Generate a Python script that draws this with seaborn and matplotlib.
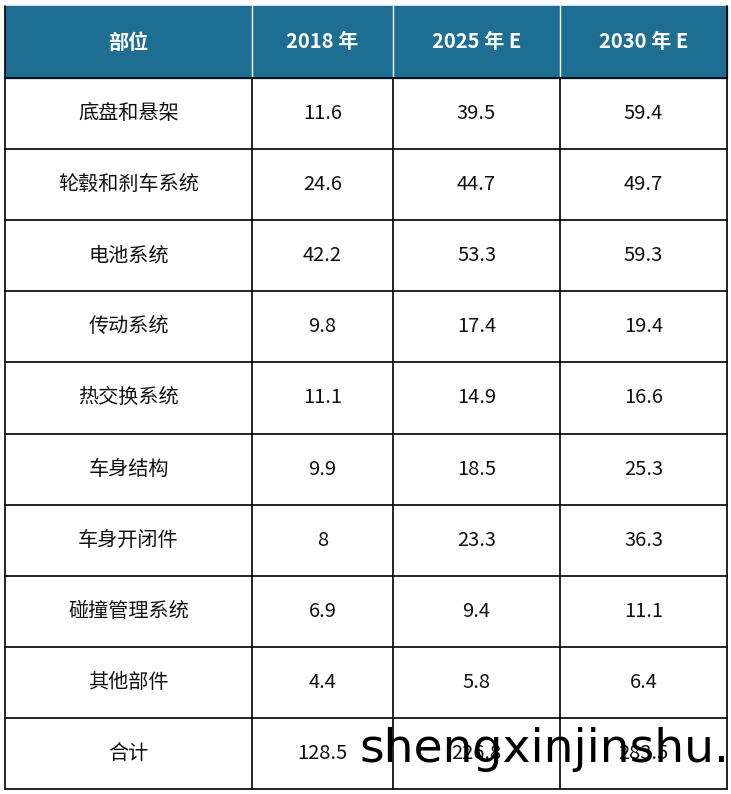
import matplotlib
matplotlib.use("Agg")
import matplotlib.pyplot as plt
import seaborn as sns
from matplotlib.patches import Rectangle

sns.set_theme(style="white")
plt.rcParams['font.family'] = ['Noto Sans CJK SC', 'DejaVu Sans']

headers = ["部位", "2018 年", "2025 年 E", "2030 年 E"]
parts = ["底盘和悬架", "轮毂和刹车系统", "电池系统", "传动系统", "热交换系统",
         "车身结构", "车身开闭件", "碰撞管理系统", "其他部件", "合计"]
v2018 = ["11.6", "24.6", "42.2", "9.8", "11.1", "9.9", "8", "6.9", "4.4", "128.5"]
v2025 = ["39.5", "44.7", "53.3", "17.4", "14.9", "18.5", "23.3", "9.4", "5.8", "226.8"]
v2030 = ["59.4", "49.7", "59.3", "19.4", "16.6", "25.3", "36.3", "11.1", "6.4", "283.5"]

W, H = 731, 794
fig = plt.figure(figsize=(W/100, H/100), dpi=100)
ax = fig.add_axes([0, 0, 1, 1])
ax.set_xlim(0, W); ax.set_ylim(H, 0); ax.axis("off")

xs = [5, 252, 393, 560, 727]
top, hh, rh = 6, 72, 71.1
hc = "#1E6E93"
ax.add_patch(Rectangle((xs[0], top), xs[-1]-xs[0], hh, color=hc, zorder=1))
for i, h in enumerate(headers):
    ax.text((xs[i]+xs[i+1])/2, top+hh/2, h, color="white", fontsize=14.5, weight="bold",
            ha="center", va="center")
for i in range(1, 4):
    ax.plot([xs[i]]*2, [top, top+hh], color="white", lw=1, zorder=2)
cols = [parts, v2018, v2025, v2030]
y0 = top + hh
nrows = len(parts)
for r in range(nrows):
    yc = y0 + rh*(r+0.5)
    for c in range(4):
        ax.text((xs[c]+xs[c+1])/2, yc, cols[c][r], fontsize=14.5, color="#111111",
                ha="center", va="center")
ybot = y0 + rh*nrows
for r in range(nrows+1):
    y = y0 + rh*r
    ax.plot([xs[0], xs[-1]], [y, y], color="black", lw=1.2)
for x in xs:
    ax.plot([x, x], [y0, ybot], color="black", lw=1.2)
ax.plot([xs[0], xs[0]], [top, y0], color="black", lw=1.2)
ax.plot([xs[-1], xs[-1]], [top, y0], color="black", lw=1.2)
ax.text(729, 750, "shengxinjinshu.", fontsize=34, color="black", ha="right", va="center",
        family="DejaVu Sans")
fig.savefig("out.png", dpi=100)
